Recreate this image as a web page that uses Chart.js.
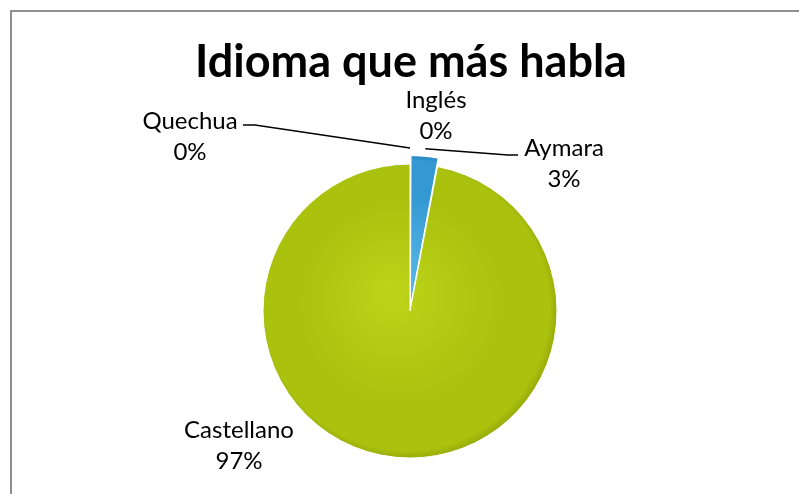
<!DOCTYPE html>
<html><head><meta charset="utf-8">
<script src="https://cdn.jsdelivr.net/npm/chart.js@4.4.1/dist/chart.umd.min.js"></script>
<style>html,body{margin:0;padding:0;background:#fff;overflow:hidden}#wrap{width:799px;height:494px;position:relative}</style>
</head><body><div id="wrap"><canvas id="c" width="799" height="494"></canvas></div>
<script>
// ---- data ----
const categories = ['Aymara', 'Castellano', 'Quechua', 'Inglés'];
const percentages = [3, 97, 0, 0];
const chartTitle = 'Idioma que más habla';

// ---- styling / placement (relative to pie centre) ----
const sliceColors = [['#5cbbea', '#3499d3', '#2279b0'], ['#bcd418', '#aac10e', '#8fa306'], ['#9bbb59', '#9bbb59', '#9bbb59'], ['#8064a2', '#8064a2', '#8064a2']];
const labelPlacement = [
  { dx: 154, dy: -163, leader: [[98, -156], [108, -156]] },
  { dx: -171, dy: 119, leader: null },
  { dx: -220, dy: -190, leader: [[-155, -186], [-167, -186]] },
  { dx: 26, dy: -211, leader: null }
];
const FONT = 'Lato, "Open Sans", sans-serif';

function sliceFill(ctx) {
  const chart = ctx.chart, ca = chart.chartArea;
  const c = sliceColors[ctx.dataIndex];
  if (!ca) return c[1];
  const cx = (ca.left + ca.right) / 2, cy = (ca.top + ca.bottom) / 2;
  const g = chart.ctx.createRadialGradient(cx - 20, cy - 20, 0, cx, cy, 170);
  g.addColorStop(0, c[0]);
  g.addColorStop(0.6, c[1]);
  g.addColorStop(0.84, c[1]);
  g.addColorStop(0.9, c[2]);
  g.addColorStop(1, c[2]);
  return g;
}

const decor = {
  id: 'decor',
  beforeDraw(chart) {
    const ctx = chart.ctx;
    ctx.save();
    ctx.strokeStyle = '#8e8e8e';
    ctx.lineWidth = 2;
    ctx.beginPath();
    ctx.moveTo(11, 494); ctx.lineTo(11, 11); ctx.lineTo(799, 11);
    ctx.stroke();
    ctx.restore();
  },
  afterDatasetsDraw(chart) {
    const ctx = chart.ctx;
    const meta = chart.getDatasetMeta(0);
    const total = percentages.reduce((a, b) => a + b, 0);
    ctx.save();
    // title
    ctx.fillStyle = '#000';
    ctx.font = 'bold 45px ' + FONT;
    ctx.textAlign = 'center';
    ctx.textBaseline = 'alphabetic';
    ctx.fillText(chartTitle, 411, 77);
    // labels
    ctx.font = '24px ' + FONT;
    ctx.textBaseline = 'middle';
    meta.data.forEach((arc, i) => {
      const p = labelPlacement[i];
      const cx = arc.x, cy = arc.y;
      const pct = Math.round(percentages[i] / total * 100) + '%';
      ctx.fillStyle = '#000';
      ctx.fillText(categories[i], cx + p.dx, cy + p.dy);
      ctx.fillText(pct, cx + p.dx, cy + p.dy + 31);
      if (p.leader) {
        const mid = (arc.startAngle + arc.endAngle) / 2;
        const r = arc.outerRadius + 16;
        ctx.strokeStyle = '#000';
        ctx.lineWidth = 1.5;
        ctx.beginPath();
        ctx.moveTo(cx + Math.cos(mid) * r, cy + Math.sin(mid) * r);
        ctx.lineTo(cx + p.leader[0][0], cy + p.leader[0][1]);
        ctx.lineTo(cx + p.leader[1][0], cy + p.leader[1][1]);
        ctx.stroke();
      }
    });
    ctx.restore();
  }
};

new Chart(document.getElementById('c'), {
  type: 'pie',
  data: {
    labels: categories,
    datasets: [{
      data: percentages,
      backgroundColor: sliceFill,
      borderColor: '#ffffff',
      borderWidth: 1,
      offset: [18.5, 0, 0, 0]
    }]
  },
  options: {
    responsive: false,
    animation: false,
    radius: 147,
    layout: { padding: { left: 100, right: 79, top: 150, bottom: 22 } },
    plugins: { legend: { display: false }, tooltip: { enabled: false }, title: { display: false } }
  },
  plugins: [decor]
});
</script>
</body></html>
